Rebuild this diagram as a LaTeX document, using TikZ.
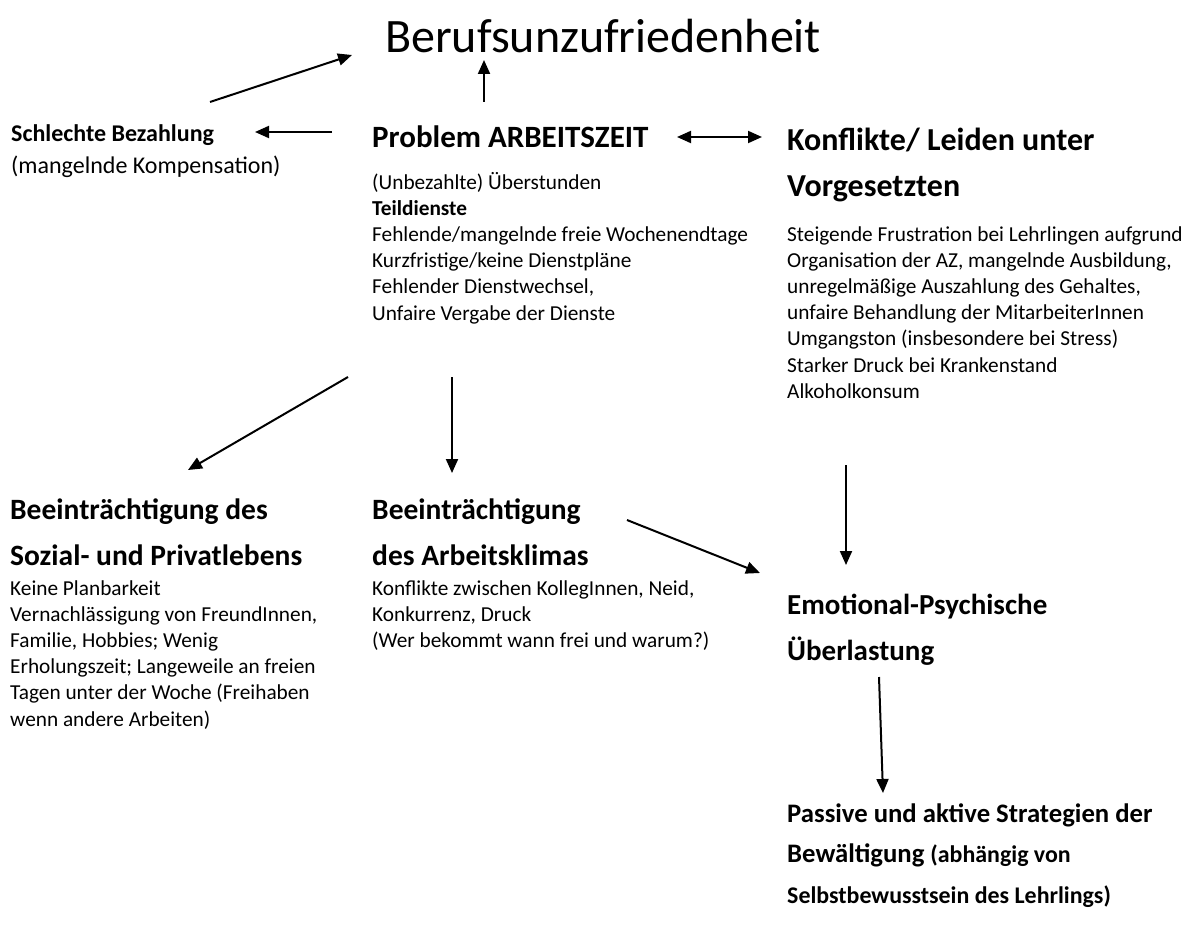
\documentclass[tikz,border=0pt]{standalone}
\usepackage{fontspec}
\setmainfont{Carlito}
\usetikzlibrary{arrows.meta}
\newcommand{\blk}[1]{\begin{tabular}[t]{@{}l@{}}#1\end{tabular}}
\begin{document}
\begin{tikzpicture}[x=1pt,y=-1pt]
\tikzset{
  txt/.style={anchor=base west, inner sep=0pt},
  body/.style={txt, font=\fontsize{21.3}{26.2}\selectfont},
  head/.style={txt, font=\bfseries\fontsize{#1}{46}\selectfont},
  arr/.style={line width=2pt, -{Triangle[length=14pt,width=12pt]}},
  darr/.style={line width=2pt, {Triangle[length=14pt,width=12pt]}-{Triangle[length=14pt,width=12pt]}},
}
\fill[white] (0,0) rectangle (1193,939);
\useasboundingbox (0,0) rectangle (1193,939);

% texts
\node[txt, font=\fontsize{48}{50}\selectfont] (title) at (385,53) {Berufsunzufriedenheit};

\node[txt, font=\bfseries\fontsize{24}{30}\selectfont] (schlecht) at (11,141) {Schlechte Bezahlung};
\node[txt, font=\fontsize{24}{30}\selectfont] (schlechtbody) at (11,173) {(mangelnde Kompensation)};

\node[head=31] (prob) at (372,147) {Problem ARBEITSZEIT};
\node[body] (probbody) at (372,189) {\blk{(Unbezahlte) Überstunden\\\textbf{Teildienste}\\Fehlende/mangelnde freie Wochenendtage\\Kurzfristige/keine Dienstpläne\\Fehlender Dienstwechsel,\\Unfaire Vergabe der Dienste}};

\node[head=32] (konf) at (787,150) {\blk{Konflikte/ Leiden unter\\Vorgesetzten}};
\node[body] (konfbody) at (787,241) {\blk{Steigende Frustration bei Lehrlingen aufgrund\\Organisation der AZ, mangelnde Ausbildung,\\unregelmäßige Auszahlung des Gehaltes,\\unfaire Behandlung der MitarbeiterInnen\\Umgangston (insbesondere bei Stress)\\Starker Druck bei Krankenstand\\Alkoholkonsum}};

\node[head=29.5] (sozial) at (10,519) {\blk{Beeinträchtigung des\\Sozial- und Privatlebens}};
\node[body] (sozialbody) at (10,595) {\blk{Keine Planbarkeit\\Vernachlässigung von FreundInnen,\\Familie, Hobbies; Wenig\\Erholungszeit; Langeweile an freien\\Tagen unter der Woche (Freihaben\\wenn andere Arbeiten)}};

\node[head=29.5] (klima) at (372,519) {\blk{Beeinträchtigung\\des Arbeitsklimas}};
\node[body] (klimabody) at (372,595) {\blk{Konflikte zwischen KollegInnen, Neid,\\Konkurrenz, Druck\\(Wer bekommt wann frei und warum?)}};

\node[head=29] (emo) at (787,614) {\blk{Emotional-Psychische\\Überlastung}};

\node[txt, font=\bfseries\fontsize{26.7}{40.5}\selectfont] (passive) at (787,822) {\blk{Passive und aktive Strategien der\\Bewältigung {\fontsize{23.9}{40.5}\selectfont(abhängig von}\\{\fontsize{23.9}{40.5}\selectfont Selbstbewusstsein des Lehrlings)}}};

% connector end points
\coordinate (s1) at (210,102); \coordinate (e1) at (352,55);
\coordinate (s2) at (484,102); \coordinate (e2) at (484,60);
\coordinate (s3) at (332,132); \coordinate (e3) at (255,132);
\coordinate (s4) at (677,137); \coordinate (e4) at (762,137);
\coordinate (s5) at (348,377); \coordinate (e5) at (188,470);
\coordinate (s6) at (452,377); \coordinate (e6) at (452,473);
\coordinate (s7) at (627,520); \coordinate (e7) at (760,573);
\coordinate (s8) at (846,465); \coordinate (e8) at (846,565);
\coordinate (s9) at (879,677); \coordinate (e9) at (883,793);

\draw[arr] (s1) -- (e1);
\draw[arr] (s2) -- (e2);
\draw[arr] (s3) -- (e3);
\draw[darr] (s4) -- (e4);
\draw[arr] (s5) -- (e5);
\draw[arr] (s6) -- (e6);
\draw[arr] (s7) -- (e7);
\draw[arr] (s8) -- (e8);
\draw[arr] (s9) -- (e9);
\end{tikzpicture}
\end{document}
